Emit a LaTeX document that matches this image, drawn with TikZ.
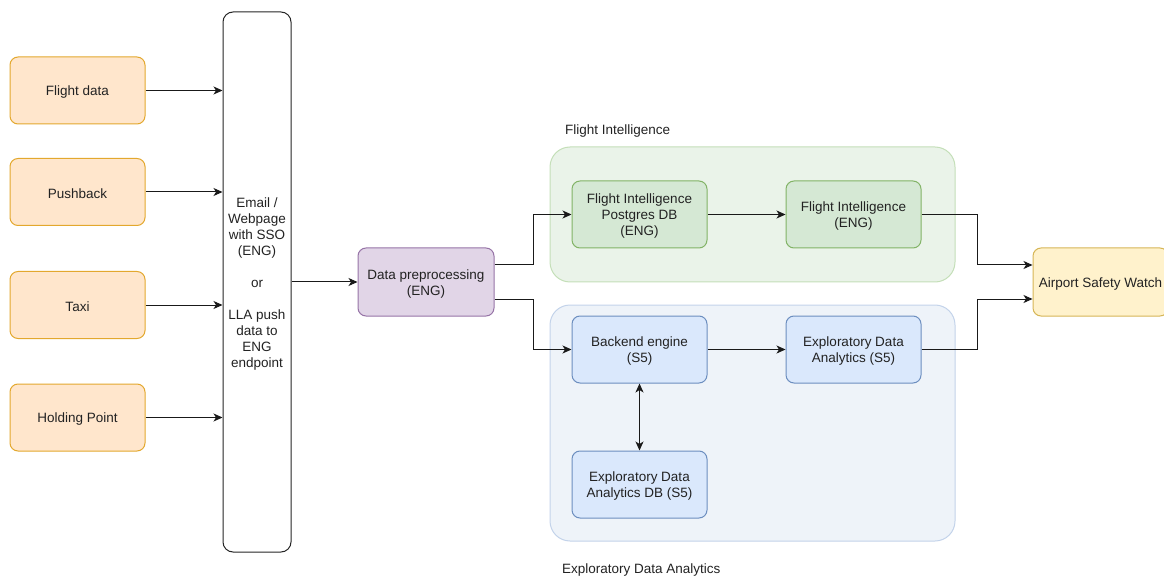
\documentclass[tikz,border=0pt]{standalone}
\usepackage{fontspec}
\setmainfont{Liberation Sans}
\usetikzlibrary{arrows.meta}
\definecolor{orfill}{HTML}{FFE6CC}\definecolor{ordraw}{HTML}{E3A82E}
\definecolor{pufill}{HTML}{E1D5E7}\definecolor{pudraw}{HTML}{9673A6}
\definecolor{grfill}{HTML}{D5E8D4}\definecolor{grdraw}{HTML}{82B366}
\definecolor{blfill}{HTML}{DAE8FC}\definecolor{bldraw}{HTML}{6C8EBF}
\definecolor{yefill}{HTML}{FFF2CC}\definecolor{yedraw}{HTML}{D6B656}
\definecolor{grgroup}{HTML}{EAF3E9}\definecolor{grgroupdraw}{HTML}{C4DFB8}
\definecolor{blgroup}{HTML}{EEF3F9}\definecolor{blgroupdraw}{HTML}{C3D3EA}
\definecolor{txt}{HTML}{222222}
\tikzset{
  box/.style={draw, rounded corners=8pt, line width=1pt, minimum width=135pt,
    minimum height=67pt, inner sep=0pt},
  boxtext/.style={align=center, text=txt, inner sep=0pt,
    font=\fontsize{13.5}{16}\selectfont},
  srcbox/.style={box, fill=orfill, draw=ordraw},
  prebox/.style={box, fill=pufill, draw=pudraw, minimum width=136pt, minimum height=68pt},
  fibox/.style={box, fill=grfill, draw=grdraw},
  edabox/.style={box, fill=blfill, draw=bldraw},
  outbox/.style={box, fill=yefill, draw=yedraw, minimum height=68pt},
  group/.style={rounded corners=20pt, line width=1pt},
  grouplabel/.style={text=txt, font=\fontsize{13.5}{16}\selectfont, anchor=west, inner sep=0pt},
  conn/.style={line width=1pt, draw=black!90, -{Stealth[length=9pt,width=8pt,inset=2.5pt]}},
  biconn/.style={line width=1pt, draw=black!90, {Stealth[length=9pt,width=8pt,inset=2.5pt]}-{Stealth[length=9pt,width=8pt,inset=2.5pt]}}
}
% a box node #2 of style #1 at #3, with its text #4 set a little below centre
\newcommand\mkbox[4]{%
  \node[#1] (#2) at (#3) {};
  \node[boxtext] (#2-text) at ([yshift=-2pt]#2.center) {#4};}
\begin{document}
\begin{tikzpicture}[x=1pt,y=-1pt]
\useasboundingbox (0,0) rectangle (1164,577);
\begin{scope}
\clip (0,0) rectangle (1164,577);

% group panels
\draw[group, fill=grgroup, draw=grgroupdraw] (550,147) rectangle (955,282);
\draw[group, fill=blgroup, draw=blgroupdraw] (550,305) rectangle (955,541);
\node[grouplabel] (lblfi) at (565,131.5) {Flight Intelligence};
\node[grouplabel] (lbleda) at (562,570.5) {Exploratory Data Analytics};

% data sources
\mkbox{srcbox}{fd}{77.5,90.5}{Flight data}
\mkbox{srcbox}{pb}{77.5,192}{Pushback}
\mkbox{srcbox}{tx}{77.5,305}{Taxi}
\mkbox{srcbox}{hp}{77.5,417.5}{Holding Point}

% ingestion
\mkbox{box, draw=black!85, fill=white, rounded corners=10pt, minimum width=68pt,
  minimum height=540pt}{ing}{257,282}
  {Email /\\Webpage\\with SSO\\(ENG)\\[16pt]or\\[16pt]LLA push\\data to\\ENG\\endpoint}

\mkbox{prebox}{dp}{426,282}{Data preprocessing\\(ENG)}

\mkbox{fibox}{fidb}{639.5,214.5}{Flight Intelligence\\Postgres DB\\(ENG)}
\mkbox{fibox}{fi}{853.5,214.5}{Flight Intelligence\\(ENG)}

\mkbox{edabox}{be}{639.5,349.5}{Backend engine\\(S5)}
\mkbox{edabox}{eda}{853.5,349.5}{Exploratory Data\\Analytics (S5)}
\mkbox{edabox}{edadb}{639.5,484.5}{Exploratory Data\\Analytics DB (S5)}

\mkbox{outbox}{asw}{1100.5,282}{Airport Safety Watch}

% connectors
\draw[conn] (fd.east) -- (fd.east -| ing.west);
\draw[conn] (pb.east) -- (pb.east -| ing.west);
\draw[conn] (tx.east) -- (tx.east -| ing.west);
\draw[conn] (hp.east) -- (hp.east -| ing.west);
\draw[conn] (ing.east) -- (dp.west);
\draw[conn] ([yshift=17pt]dp.east) -- ++(39,0) |- (fidb.west);
\draw[conn] ([yshift=-17pt]dp.east) -- ++(39,0) |- (be.west);
\draw[conn] (fidb.east) -- (fi.west);
\draw[conn] (be.east) -- (eda.west);
\draw[biconn] (be.south) -- (edadb.north);
\draw[conn] (fi.east) -- ++(56,0) |- ([yshift=17pt]asw.west);
\draw[conn] (eda.east) -- ++(56,0) |- ([yshift=-17pt]asw.west);
\end{scope}
\end{tikzpicture}
\end{document}
